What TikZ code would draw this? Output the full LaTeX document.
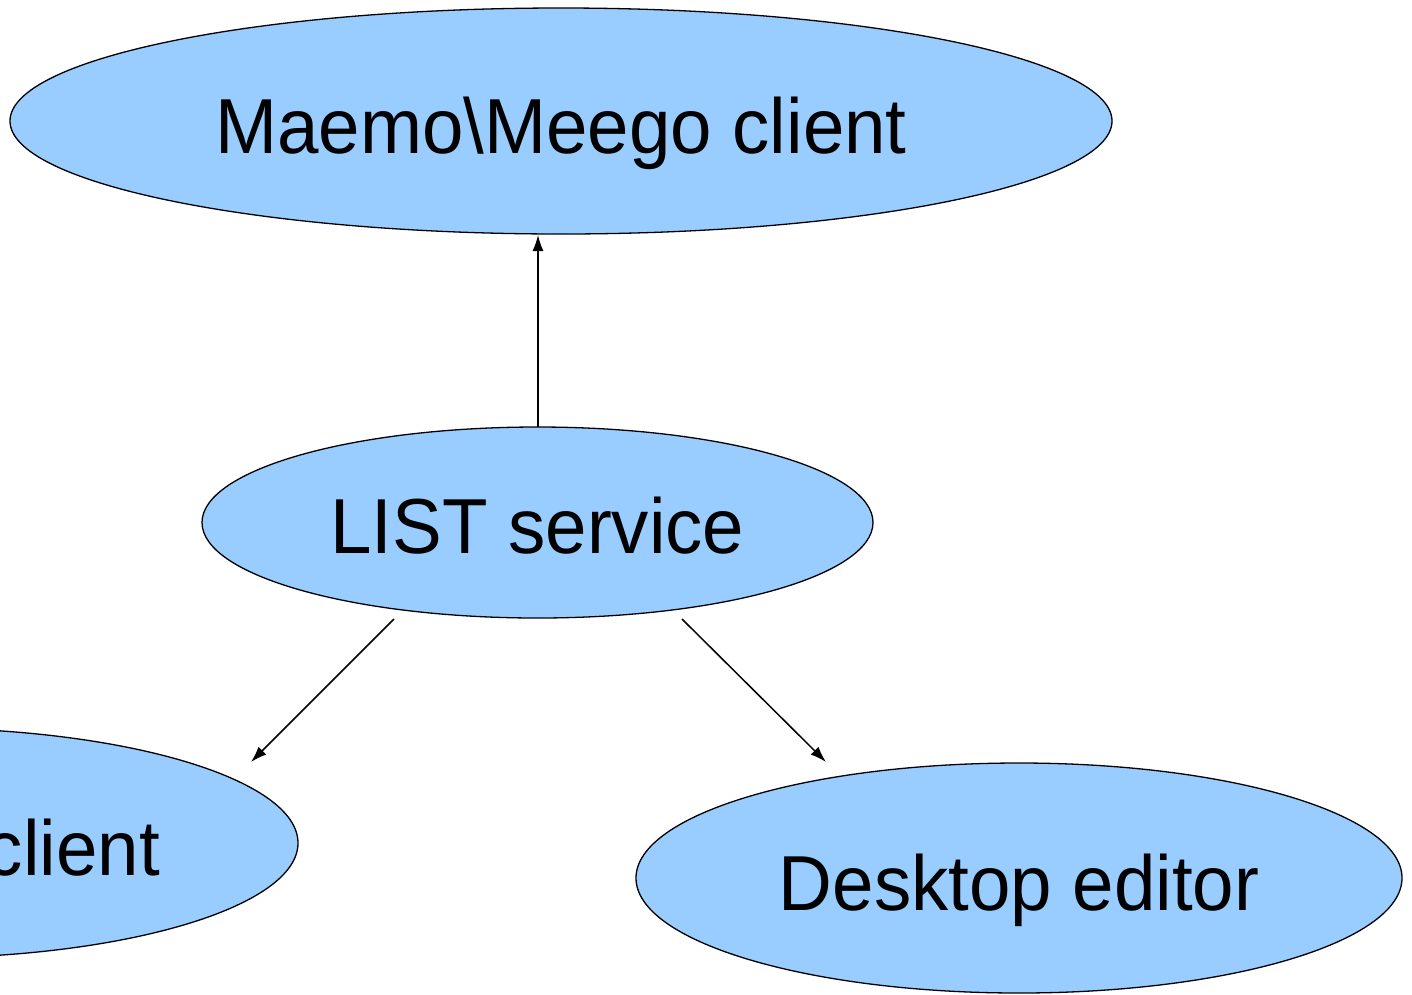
\documentclass[tikz,border=0pt]{standalone}
\usepackage{fontspec}
\setmainfont{Liberation Sans}
\usetikzlibrary{shapes.geometric,arrows.meta}
\definecolor{ellfill}{HTML}{99CCFF}
\newcommand{\cond}[1]{\scalebox{0.955}[1]{#1}}
\tikzset{
  ell/.style={ellipse, draw=black, line width=1.3pt, fill=ellfill, inner sep=0pt},
  lbl/.style={anchor=base, inner sep=0pt, font=\fontsize{78}{90}\selectfont},
  conn/.style={line width=1.5pt, -{Latex[length=16pt,width=11pt]}}
}
\begin{document}
\begin{tikzpicture}[x=1pt,y=-1pt]
\useasboundingbox (0,0) rectangle (1412,994);
\clip (0,0) rectangle (1412,994);
\node[ell, minimum width=1102pt, minimum height=226pt] (maemo) at (561,121) {};
\node[lbl] (maemot) at (561,153) {\cond{Maemo\textbackslash Meego client}};
\node[ell, minimum width=671pt, minimum height=191pt] (list) at (537.5,522.5) {};
\node[lbl] (listt) at (537.5,553) {\cond{LIST service}};
\node[ell, minimum width=766pt, minimum height=230pt] (leftc) at (-85,843) {};
\node[lbl, anchor=base east] (leftt) at (160,875) {\cond{client}};
\node[ell, minimum width=766pt, minimum height=230pt] (desk) at (1019,878) {};
\node[lbl] (deskt) at (1019,910) {\cond{Desktop editor}};
\coordinate (a1s) at (538,427);
\coordinate (a1e) at (538,235);
\coordinate (a2s) at (394,619);
\coordinate (a2e) at (251,762);
\coordinate (a3s) at (682,619);
\coordinate (a3e) at (826,762);
\draw[conn] (a1s) -- (a1e);
\draw[conn] (a2s) -- (a2e);
\draw[conn] (a3s) -- (a3e);
\end{tikzpicture}
\end{document}
